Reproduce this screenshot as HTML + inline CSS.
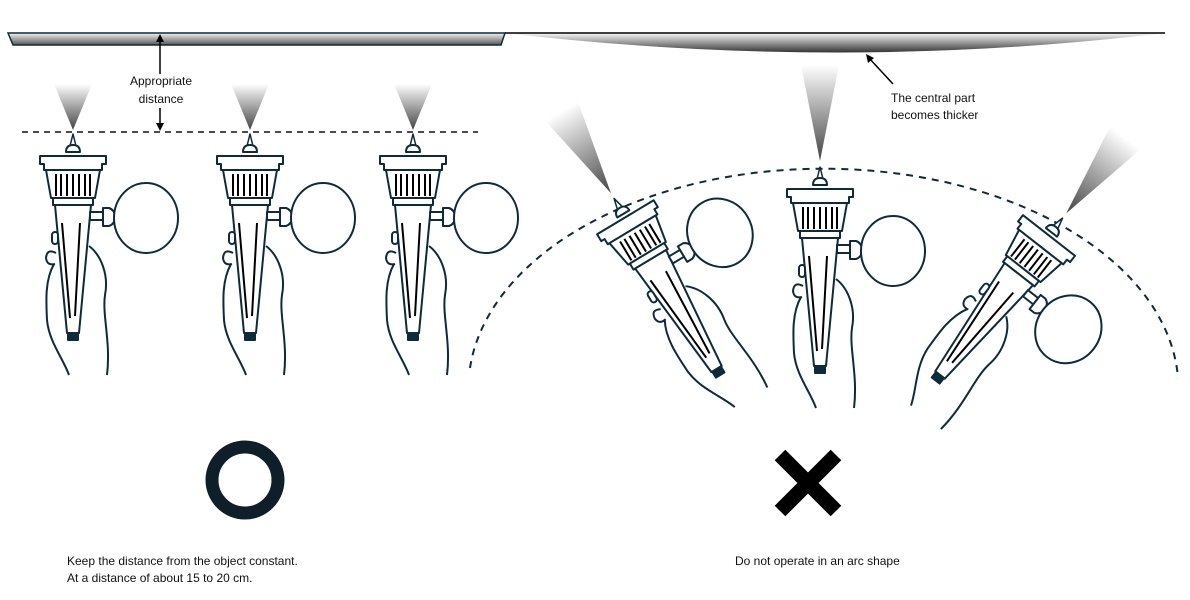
<!DOCTYPE html>
<html><head><meta charset="utf-8"><style>
html,body{margin:0;padding:0;background:#fff;}
svg{display:block;}
text{font-family:"Liberation Sans",sans-serif;font-size:12px;fill:#111;}
</style></head><body>
<svg width="1190" height="600" viewBox="0 0 1190 600" xmlns="http://www.w3.org/2000/svg">
<defs>
<linearGradient id="cone" x1="0" y1="0" x2="0" y2="1">
<stop offset="0" stop-color="#fff"/><stop offset="1" stop-color="#444"/></linearGradient>
<linearGradient id="bar" x1="0" y1="0" x2="0" y2="1">
<stop offset="0" stop-color="#f4f4f4"/><stop offset="1" stop-color="#555"/></linearGradient>
<linearGradient id="lens" x1="0" y1="0" x2="0" y2="1">
<stop offset="0" stop-color="#fafafa"/><stop offset="1" stop-color="#333"/></linearGradient>
<g id="body" stroke="#0f2a3a" stroke-width="2" fill="#fff" stroke-linejoin="round">
<path d="M-3,16 L0,4 L3,16 Z" stroke-width="1.5"/>
<path d="M-7,22 Q-7,15 0,15 Q7,15 7,22 Z"/>
<path d="M-33,26 H33 V34 H29 V40 H-29 V34 H-33 Z"/>
<path d="M-27,40 H27 L22,68 H-22 Z"/>
<path d="M-17,44 V66 M-12,44 V66 M-6,44 V66 M0,44 V66 M6,44 V66 M12,44 V66 M17,44 V66" stroke="#000" stroke-width="2"/>
<rect x="-20" y="68" width="40" height="7"/>
<path d="M-18,75 L18,75 L6,203 L-6,203 Z"/>
<rect x="-5" y="203" width="10" height="7" fill="#0f2a3a"/>
<path d="M-11,93 L-3,188 M7,93 L2,186" stroke="#000" stroke-width="2"/>
<rect x="17" y="82" width="13" height="8"/>
<path d="M30,78 H36 Q42,80 42,87 Q42,94 36,96 H30 Z"/>
<ellipse cx="73" cy="88" rx="32" ry="35"/>
<rect x="-21" y="102" width="6" height="12" rx="3"/>
<path d="M-17,123 Q-26,118 -27,128 Q-26,136 -18,134" />
<path d="M-19,134 C-28,150 -27,170 -26,190 C-24,212 -10,228 -4,245" fill="none"/>
<path d="M16,116 C28,125 36,145 32,165 C29,185 38,212 34,245" fill="none"/>
</g>
<g id="gun">
<polygon points="-19,-46 19,-46 0,0" fill="url(#cone)"/>
<use href="#body"/>
</g>
<g id="gun2">
<polygon points="-19,-98 19,-98 0,-2" fill="url(#cone)"/>
<use href="#body"/>
</g>
</defs>

<path d="M8,33 H505 L501,45 H13 Z" fill="url(#bar)" stroke="#0f2a3a" stroke-width="1.5"/>
<path d="M505,33 Q840,72 1165,33 Z" fill="url(#lens)"/>
<line x1="505" y1="33" x2="1165" y2="33" stroke="#000" stroke-width="1.5"/>

<line x1="160" y1="38" x2="160" y2="74" stroke="#000" stroke-width="1.5"/>
<path d="M156,42 L160,34 L164,42 Z" fill="#000"/>
<line x1="160" y1="108" x2="160" y2="126" stroke="#000" stroke-width="1.5"/>
<path d="M156,123 L160,131 L164,123 Z" fill="#000"/>
<text x="161" y="85" text-anchor="middle">Appropriate</text>
<text x="161" y="103" text-anchor="middle">distance</text>
<line x1="22" y1="132" x2="478" y2="132" stroke="#111" stroke-width="1.5" stroke-dasharray="6,5"/>

<line x1="893" y1="84" x2="869" y2="58" stroke="#000" stroke-width="1.5"/>
<path d="M866,54 L874,58 L868,63 Z" fill="#000"/>
<text x="891" y="102">The central part</text>
<text x="891" y="119">becomes thicker</text>

<path d="M470,368 A355,220 0 0 1 1178,378" fill="none" stroke="#0f2a3a" stroke-width="2" stroke-dasharray="7,6"/>

<use href="#gun" transform="translate(73,130)"/>
<use href="#gun" transform="translate(250,130)"/>
<use href="#gun" transform="translate(413,130)"/>
<use href="#gun2" transform="translate(820,163)"/>
<use href="#gun2" transform="translate(612,195) rotate(-31)"/>
<use href="#gun2" transform="translate(1065,215) rotate(38)"/>

<circle cx="245" cy="480" r="33" fill="none" stroke="#0f1f2a" stroke-width="13"/>
<path d="M780,455 L836,511 M836,455 L780,511" stroke="#000" stroke-width="15"/>

<text x="67" y="565">Keep the distance from the object constant.</text>
<text x="67" y="582">At a distance of about 15 to 20 cm.</text>
<text x="735" y="565">Do not operate in an arc shape</text>
</svg>
</body></html>
